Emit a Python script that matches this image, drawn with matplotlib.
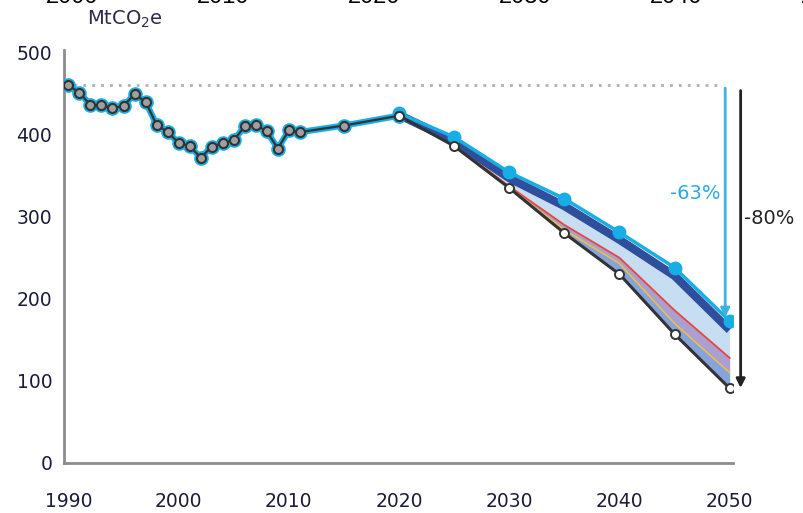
import matplotlib.pyplot as plt

plt.rcParams['font.family'] = ['DejaVu Sans']

# historical emissions, MtCO2e
hist_years = [1990, 1991, 1992, 1993, 1994, 1995, 1996, 1997, 1998, 1999, 2000,
              2001, 2002, 2003, 2004, 2005, 2006, 2007, 2008, 2009, 2010, 2011,
              2015, 2020]
hist_vals = [460, 451, 436, 436, 432, 435, 449, 440, 412, 403, 390,
             386, 372, 385, 390, 393, 410, 412, 404, 383, 405, 403,
             411, 423]

# scenarios 2020-2050
proj_years = [2020, 2025, 2030, 2035, 2040, 2045, 2050]
upper = [426, 397, 354, 322, 281, 238, 173]     # -63% pathway
navy = [424, 392, 347, 313, 272, 228, 162]
red = [423, 387, 337, 290, 250, 186, 128]
yellow = [423, 386, 335, 284, 243, 170, 110]
lower = [423, 386, 335, 280, 230, 157, 91]      # -80% pathway

base_1990 = 460
top_ticks = ['2000', '2010', '2020', '2030', '2040', '2050']

fig = plt.figure(figsize=(8.04, 5.13), dpi=100)
ax = fig.add_axes([0.0796, 0.0975, 0.832, 0.805])

cyan = '#17aee6'
ax.fill_between(proj_years, navy, lower, color='#c7ddf1', lw=0, zorder=1)
ax.fill_between(proj_years, red, yellow, color='#aa9fd0', lw=0, zorder=1)
ax.fill_between(proj_years, yellow, lower, color='#86a3dc', lw=0, zorder=1)
ax.plot(proj_years, red, color='#e8463c', lw=1.3, zorder=2)
ax.plot(proj_years, yellow, color='#f0c23a', lw=1.1, zorder=2)
ax.plot(proj_years, navy, color='#2f4f9c', lw=6, zorder=3, solid_capstyle='butt')
ax.plot(proj_years, upper, color=cyan, lw=2.5, marker='o', ms=9,
        mfc=cyan, mec=cyan, zorder=4)

# dotted 1990 reference level
ax.plot([1990.5, 2049.4], [base_1990, base_1990], color='#b0b0b0', lw=2,
        linestyle=(0, (1, 2.2)), zorder=1)

# historical with cyan halo
ax.plot(hist_years, hist_vals, color=cyan, lw=4.5, marker='o', ms=9.5,
        mfc=cyan, mec=cyan, zorder=5)
ax.plot(hist_years, hist_vals, color='#333333', lw=1.6, marker='o', ms=6.5,
        mfc='#a0a0a0', mec='#333333', mew=1.5, zorder=6)
ax.plot(proj_years, lower, color='#333333', lw=2.2, marker='o', ms=6.5,
        mfc='white', mec='#333333', mew=1.4, zorder=6)

# reduction arrows
ax.annotate('', xy=(2049.6, 174), xytext=(2049.6, base_1990),
            arrowprops=dict(arrowstyle='-|>', color='#3fb1e0', lw=2,
                            mutation_scale=13), annotation_clip=False, zorder=7)
ax.annotate('', xy=(2051.0, 88), xytext=(2051.0, base_1990 - 3),
            arrowprops=dict(arrowstyle='-|>', color='#222222', lw=2,
                            mutation_scale=13), annotation_clip=False, zorder=7)
ax.text(2049.2, 328, '-63%', color='#2aaae2', fontsize=14, ha='right', va='center')
ax.text(2051.3, 298, '-80%', color='#222222', fontsize=14, ha='left', va='center')

ax.set_xlim(1989.6, 2050.3)
ax.set_ylim(0, 503)
ax.set_xticks(range(1990, 2051, 10))
ax.set_yticks(range(0, 501, 100))
ax.tick_params(length=0, labelsize=13.5, colors='#1c1c3a')
ax.tick_params(axis='x', pad=21)
ax.tick_params(axis='y', pad=8.5)
for s in ['top', 'right']:
    ax.spines[s].set_visible(False)
for s in ['left', 'bottom']:
    ax.spines[s].set_color('#8c8c8c')
    ax.spines[s].set_linewidth(2)

fig.text(0.108, 0.963, 'MtCO$_2$e', fontsize=14, color='#2a2a4a', va='center')

# clipped labels from the chart above
for i, lab in enumerate(top_ticks):
    fig.text((72 + 151 * i) / 804, 0.9945, lab, fontsize=17, ha='center',
             va='baseline', color='black', family='Liberation Sans')

fig.savefig('out.png', dpi=100)
